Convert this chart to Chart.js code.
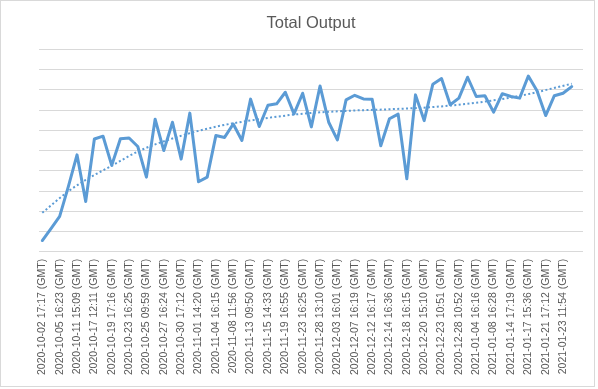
<!DOCTYPE html>
<html>
<head>
<meta charset="utf-8">
<script src="https://cdn.jsdelivr.net/npm/chart.js@4/dist/chart.umd.min.js"></script>
<style>
  html, body { margin: 0; padding: 0; background: #ffffff; }
  #wrap { position: relative; width: 598px; height: 389px; }
</style>
</head>
<body>
<div id="wrap"><canvas id="c" width="598" height="389"></canvas></div>
<script>
// Category labels (every other one is shown on the axis; hidden ones left blank)
const categories = [
  "2020-10-02 17:17 (GMT)", "", "2020-10-05 16:23 (GMT)", "", "2020-10-11 15:09 (GMT)", "",
  "2020-10-17 12:11 (GMT)", "", "2020-10-19 17:16 (GMT)", "", "2020-10-23 16:25 (GMT)", "",
  "2020-10-25 09:59 (GMT)", "", "2020-10-27 16:24 (GMT)", "", "2020-10-30 17:12 (GMT)", "",
  "2020-11-01 14:20 (GMT)", "", "2020-11-04 16:15 (GMT)", "", "2020-11-08 11:56 (GMT)", "",
  "2020-11-13 09:50 (GMT)", "", "2020-11-15 14:33 (GMT)", "", "2020-11-19 16:55 (GMT)", "",
  "2020-11-23 16:25 (GMT)", "", "2020-11-28 13:10 (GMT)", "", "2020-12-03 16:01 (GMT)", "",
  "2020-12-07 16:19 (GMT)", "", "2020-12-12 16:17 (GMT)", "", "2020-12-14 16:36 (GMT)", "",
  "2020-12-18 16:15 (GMT)", "", "2020-12-20 15:10 (GMT)", "", "2020-12-23 10:51 (GMT)", "",
  "2020-12-28 10:52 (GMT)", "", "2021-01-04 16:16 (GMT)", "", "2021-01-08 16:28 (GMT)", "",
  "2021-01-14 17:19 (GMT)", "", "2021-01-17 15:36 (GMT)", "", "2021-01-21 17:12 (GMT)", "",
  "2021-01-23 11:54 (GMT)", ""
];

// Total Output values (no scale printed on the reference; read in gridline units)
const totalOutput = [
  0.56, 1.15, 1.75, 3.22, 4.79, 2.49, 5.57, 5.71, 4.27, 5.58,
  5.62, 5.20, 3.69, 6.55, 5.00, 6.40, 4.58, 6.85, 3.46, 3.69,
  5.74, 5.65, 6.31, 5.50, 7.54, 6.19, 7.24, 7.31, 7.88, 6.81,
  7.83, 6.17, 8.19, 6.40, 5.53, 7.50, 7.73, 7.55, 7.54, 5.24,
  6.57, 6.80, 3.61, 7.75, 6.48, 8.28, 8.56, 7.26, 7.59, 8.62,
  7.67, 7.71, 6.90, 7.81, 7.67, 7.59, 8.68, 7.95, 6.73, 7.71,
  7.83, 8.16
];

const trendIndex = [0, 3, 5, 8, 11, 15, 20, 25, 30, 35, 40, 45, 50, 55, 61];
const trendValue = [1.93, 2.99, 3.55, 4.25, 4.95, 5.60, 6.18, 6.55, 6.82, 6.96, 7.04, 7.15, 7.36, 7.70, 8.30];

const shownTicks = [0,2,4,6,8,10,12,14,16,18,20,22,24,26,28,30,32,34,36,38,40,42,44,46,48,50,52,54,56,58,60];

const BLUE = '#5B9BD5';
const GRID = '#d9d9d9';
const TEXT = '#595959';

const frame = {
  id: 'frame',
  beforeDraw(chart) {
    const ctx = chart.ctx;
    ctx.save();
    ctx.fillStyle = '#ffffff';
    ctx.fillRect(0, 0, chart.width, chart.height);
    ctx.strokeStyle = GRID;
    ctx.lineWidth = 1;
    ctx.strokeRect(0.5, 0.5, 594, 386);
    ctx.restore();
  }
};

new Chart(document.getElementById('c'), {
  type: 'line',
  data: {
    datasets: [
      {
        label: 'Total Output',
        data: totalOutput.map((v, i) => ({ x: i, y: v })),
        borderColor: BLUE,
        borderWidth: 3,
        pointRadius: 0,
        tension: 0,
        borderJoinStyle: 'round',
        borderCapStyle: 'round',
        order: 1
      },
      {
        label: 'Trend',
        data: trendIndex.map((i, k) => ({ x: i, y: trendValue[k] })),
        borderColor: BLUE,
        borderWidth: 2,
        borderDash: [2, 2.4],
        pointRadius: 0,
        cubicInterpolationMode: 'monotone',
        order: 0
      }
    ]
  },
  options: {
    responsive: false,
    animation: false,
    layout: { padding: { left: 39, right: 15, top: 0, bottom: 7 } },
    plugins: {
      legend: { display: false },
      tooltip: { enabled: false },
      title: {
        display: true,
        text: 'Total Output',
        color: TEXT,
        font: { family: 'Liberation Sans', size: 16.5, weight: 'normal' },
        padding: { top: 14, bottom: 15.5 }
      }
    },
    scales: {
      x: {
        type: 'linear',
        min: -0.38,
        max: 62.3,
        afterBuildTicks(scale) {
          scale.ticks = shownTicks.map(v => ({ value: v }));
        },
        ticks: {
          autoSkip: false,
          maxRotation: 90,
          minRotation: 90,
          padding: 7,
          color: TEXT,
          font: { family: 'Liberation Sans', size: 10.5 },
          callback: (v) => categories[v]
        },
        grid: { display: false, drawTicks: false },
        border: { display: false }
      },
      y: {
        min: 0,
        max: 10,
        ticks: { display: false, stepSize: 1 },
        grid: { color: GRID, lineWidth: 1, drawTicks: false },
        border: { display: false }
      }
    }
  },
  plugins: [frame]
});
</script>
</body>
</html>
